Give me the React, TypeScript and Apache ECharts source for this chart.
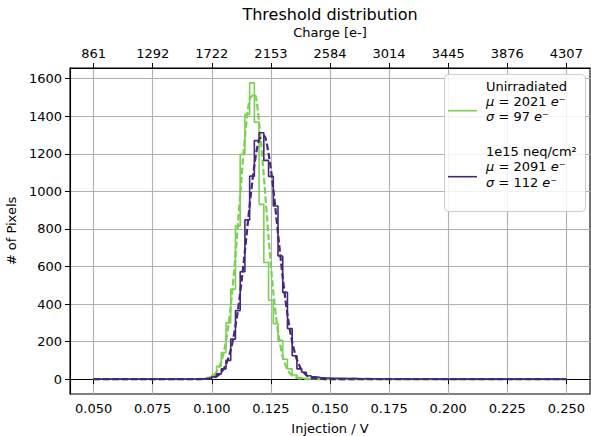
import React, { useEffect, useRef } from "react";
import * as echarts from "echarts";

// ---- data ----
const BIN_START = 0.05;
const BIN_END = 0.25;
// 100 bins of 0.002 V
const GREEN_COUNTS = [
  0, 0, 0, 0, 0, 0, 0, 0, 0, 0,
  0, 0, 0, 0, 0, 0, 0, 0, 0, 0,
  1, 1, 2, 4, 9, 21, 68, 142, 300, 479,
  815, 1197, 1410, 1578, 1369, 931, 621, 420, 295, 207,
  106, 55, 22, 9, 5, 3, 2, 1, 1, 0,
  1, 0, 1, 0, 0, 1, 0, 0, 0, 0,
  0, 0, 0, 0, 0, 0, 0, 0, 0, 0,
  0, 0, 0, 0, 0, 0, 0, 0, 0, 0,
  0, 0, 0, 0, 0, 0, 0, 0, 0, 0,
  0, 0, 0, 0, 0, 0, 0, 0, 0, 0,
];
const PURPLE_COUNTS = [
  0, 0, 0, 0, 0, 0, 0, 0, 0, 0,
  0, 0, 0, 0, 0, 0, 0, 0, 1, 0,
  1, 1, 2, 3, 5, 12, 28, 55, 100, 213,
  365, 572, 848, 1081, 1270, 1312, 1165, 1080, 922, 656,
  462, 270, 125, 55, 37, 18, 12, 9, 7, 6,
  5, 4, 5, 3, 4, 3, 2, 3, 2, 2,
  1, 2, 1, 1, 2, 1, 0, 1, 1, 0,
  1, 1, 0, 0, 1, 0, 0, 1, 0, 0,
  0, 0, 0, 0, 0, 0, 0, 0, 0, 0,
  0, 0, 0, 0, 0, 0, 0, 0, 0, 0,
];
const FIT_X = [
  0.05, 0.07, 0.09, 0.094, 0.098, 0.1, 0.102, 0.104, 0.106, 0.108, 0.11, 0.112,
  0.114, 0.116, 0.118, 0.12, 0.122, 0.124, 0.126, 0.128, 0.13, 0.132, 0.134,
  0.136, 0.138, 0.14, 0.142, 0.144, 0.146, 0.15, 0.16, 0.18, 0.25,
];
const GREEN_FIT = [
  0, 0, 0, 0.3, 4, 14, 38, 93, 203, 389, 657, 979,
  1286, 1489, 1519, 1366, 1083, 757, 466, 253, 121, 51, 19,
  6, 2, 0.5, 0.1, 0, 0, 0, 0, 0, 0,
];
const PURPLE_FIT = [
  0, 0, 0, 0.1, 1.5, 6, 15, 36, 79, 156, 281, 459,
  683, 924, 1138, 1274, 1297, 1202, 1013, 777, 542, 344, 199,
  104, 50, 22, 9, 3, 1, 0, 0, 0, 0,
];
const BOTTOM_TICKS = [0.05, 0.075, 0.1, 0.125, 0.15, 0.175, 0.2, 0.225, 0.25];
const TOP_TICK_LABELS = ["861", "1292", "1722", "2153", "2584", "3014", "3445", "3876", "4307"];
const Y_TICKS = [0, 200, 400, 600, 800, 1000, 1200, 1400, 1600];

const GREEN = "#7ad151";
const PURPLE = "#45287a";
const FONT = "DejaVu Sans";

function stepData(counts: number[]) {
  const w = (BIN_END - BIN_START) / counts.length;
  const d: number[][] = [[BIN_START, 0]];
  counts.forEach((c, k) => d.push([BIN_START + k * w, c]));
  d.push([BIN_END, counts[counts.length - 1]]);
  d.push([BIN_END, 0]);
  return d;
}

export default function App() {
  const ref = useRef<HTMLDivElement>(null);
  useEffect(() => {
    if (!ref.current) return;
    const chart = echarts.init(ref.current, undefined, { renderer: "svg" });
    const axisText = { fontFamily: FONT, fontSize: 13, color: "#000" };
    const legendX = 486;
    chart.setOption({
      animation: false,
      textStyle: { fontFamily: FONT },
      grid: {
        left: 70, right: 1, top: 68, bottom: 42,
        containLabel: false, outerBoundsMode: "none",
        show: true, borderColor: "#000", borderWidth: 1.1, backgroundColor: "transparent",
      },
      xAxis: [
        {
          type: "value", position: "bottom", min: 0.04, max: 0.26,
          axisLine: { show: true, lineStyle: { color: "#000", width: 1.1 } },
          axisTick: { show: true, length: 5, customValues: BOTTOM_TICKS, lineStyle: { color: "#000" } },
          axisLabel: { ...axisText, margin: 8, customValues: BOTTOM_TICKS, formatter: (v: number) => v.toFixed(3) },
          splitLine: { show: true, lineStyle: { color: "#b0b0b0", width: 1.1 } },
          name: "Injection / V", nameLocation: "middle", nameGap: 28,
          nameTextStyle: axisText,
        },
        {
          type: "value", position: "top", min: 0.04, max: 0.26,
          axisLine: { show: true, lineStyle: { color: "#000", width: 1.1 } },
          axisTick: { show: true, length: 5, customValues: BOTTOM_TICKS, lineStyle: { color: "#000" } },
          axisLabel: {
            ...axisText, margin: 8, customValues: BOTTOM_TICKS,
            formatter: (v: number) => TOP_TICK_LABELS[BOTTOM_TICKS.findIndex((t) => Math.abs(t - v) < 1e-9)] ?? "",
          },
          splitLine: { show: false },
          name: "Charge [e-]", nameLocation: "middle", nameGap: 29,
          nameTextStyle: axisText,
        },
      ],
      yAxis: {
        type: "value", min: -79, max: 1657,
        axisLine: { show: true, lineStyle: { color: "#000", width: 1.1 } },
        axisTick: { show: true, length: 5, customValues: Y_TICKS, lineStyle: { color: "#000" } },
        axisLabel: { ...axisText, margin: 8, customValues: Y_TICKS, formatter: (v: number) => String(v) },
        splitLine: { show: true, lineStyle: { color: "#b0b0b0", width: 1.1 } },
        name: "# of Pixels", nameLocation: "middle", nameGap: 49,
        nameTextStyle: axisText,
      },
      series: [
        {
          type: "line", name: "Unirradiated", data: stepData(GREEN_COUNTS), step: "end",
          showSymbol: false, lineStyle: { color: GREEN, width: 1.6 }, z: 2,
        },
        {
          type: "line", name: "Unirradiated fit", data: FIT_X.map((x, i) => [x, GREEN_FIT[i]]),
          smooth: 0.3, showSymbol: false, lineStyle: { color: GREEN, width: 2.2, type: [6.5, 2.8] }, z: 3,
        },
        {
          type: "line", name: "1e15 neq/cm²", data: stepData(PURPLE_COUNTS), step: "end",
          showSymbol: false, lineStyle: { color: PURPLE, width: 1.6 }, z: 4,
        },
        {
          type: "line", name: "1e15 fit", data: FIT_X.map((x, i) => [x, PURPLE_FIT[i]]),
          smooth: 0.3, showSymbol: false, lineStyle: { color: PURPLE, width: 2.2, type: [6.5, 2.8] }, z: 5,
        },
      ],
      graphic: [
        {
          type: "text", x: 330, y: 14,
          style: { text: "Threshold distribution", fontFamily: FONT, fontSize: 16, fill: "#000", align: "center", verticalAlign: "middle" },
        },
        {
          type: "rect", shape: { x: 444.5, y: 74.5, width: 141, height: 137, r: 4 },
          style: { fill: "rgba(255,255,255,0.85)", stroke: "#cccccc", lineWidth: 1 }, z: 10,
        },
        { type: "line", shape: { x1: 448, y1: 110.7, x2: 477, y2: 110.7 }, style: { stroke: GREEN, lineWidth: 1.6 }, z: 11 },
        { type: "line", shape: { x1: 448, y1: 176.7, x2: 477, y2: 176.7 }, style: { stroke: PURPLE, lineWidth: 1.6 }, z: 11 },
        ...[
          ["Unirradiated", 86],
          ["{i|μ} = 2021 {i|e}⁻", 101.7],
          ["{i|σ} = 97 {i|e}⁻", 116.9],
          ["1e15 neq/cm²", 151.7],
          ["{i|μ} = 2091 {i|e}⁻", 166.9],
          ["{i|σ} = 112 {i|e}⁻", 182],
        ].map(([t, y]) => ({
          type: "text", x: legendX, y: y as number, z: 12,
          style: {
            text: t as string, fontFamily: FONT, fontSize: 13, fill: "#000",
            align: "left", verticalAlign: "middle",
            rich: { i: { fontStyle: "italic", fontFamily: FONT, fontSize: 13, fill: "#000" } },
          },
        })),
      ],
    });
    return () => chart.dispose();
  }, []);
  return <div ref={ref} style={{ position: "absolute", left: 0, top: 0, width: 591, height: 436 }} />;
}
